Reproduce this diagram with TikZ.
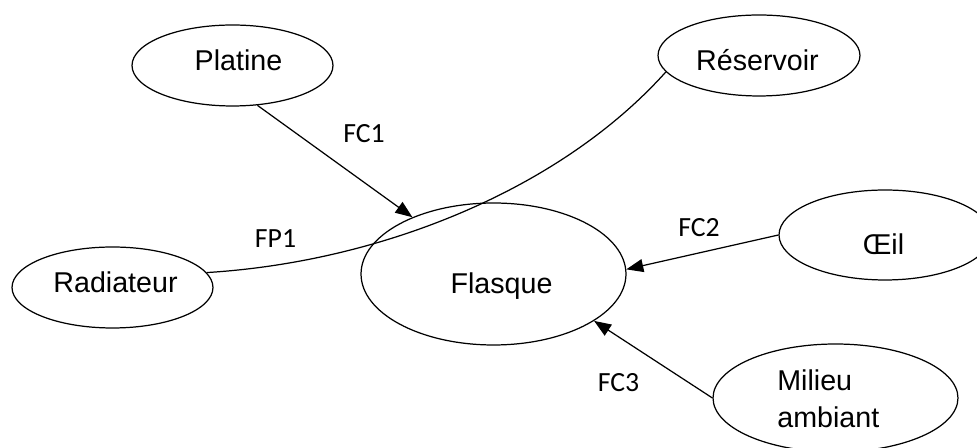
\documentclass[tikz,border=0pt]{standalone}
\usepackage{fontspec}
\setmainfont{Liberation Sans}
\newfontfamily\lblfont{Carlito}
\usetikzlibrary{shapes.geometric,arrows.meta}

\begin{document}
\begin{tikzpicture}[x=0.02cm, y=-0.02cm,
    blob/.style={draw, ellipse, line width=0.7pt, inner sep=0pt},
    txt/.style={anchor=base, inner sep=0pt, font=\fontsize{16.3}{19}\selectfont},
    lbl/.style={anchor=base, inner sep=0pt, font=\lblfont\fontsize{15.8}{19}\selectfont},
    arr/.style={line width=0.7pt, -{Triangle[length=0.34cm,width=0.26cm]}}]
    \useasboundingbox (0, 0) rectangle (977, 448);
    % ellipses
    \node[blob, minimum width=4.02cm, minimum height=1.62cm] (platine) at (232.5, 65.5) {};
    \node[blob, minimum width=4.02cm, minimum height=1.62cm] (radiateur) at (112.5, 287.5) {};
    \node[blob, minimum width=5.3cm, minimum height=2.84cm] (flasque) at (493.5, 274) {};
    \node[blob, minimum width=4.04cm, minimum height=1.62cm] (reservoir) at (759, 55.5) {};
    \node[blob, minimum width=4.24cm, minimum height=1.8cm] (oeil) at (885, 235) {};
    \node[blob, minimum width=4.9cm, minimum height=2.16cm] (milieu) at (835.5, 398) {};
    % texts
    \node[txt] (platinetxt) at (238.5, 71) {Platine};
    \node[txt] (radiateurtxt) at (115.5, 293) {Radiateur};
    \node[txt] (flasquetxt) at (501.5, 294) {Flasque};
    \node[txt] (reservoirtxt) at (757.5, 71) {Réservoir};
    \node[txt] (oeiltxt) at (883.5, 255) {Œil};
    \node[txt, anchor=base west] (milieutxt) at (777, 391) {Milieu};
    \node[txt, anchor=base west] (ambianttxt) at (777, 428) {ambiant};
    % connectors
    \draw[arr] (platine.302) -- (flasque.145);
    \draw[line width=0.7pt] (radiateur.9) .. controls (380, 262) and (560, 190) .. (reservoir.190);
    \draw[arr] (oeil.west) -- (flasque.2);
    \draw[arr] (milieu.west) -- (flasque.335);
    % labels
    \node[lbl] (fc1) at (364, 143) {FC1};
    \node[lbl] (fp1) at (275.5, 248) {FP1};
    \node[lbl] (fc2) at (699, 237) {FC2};
    \node[lbl] (fc3) at (618.5, 392) {FC3};
\end{tikzpicture}
\end{document}
